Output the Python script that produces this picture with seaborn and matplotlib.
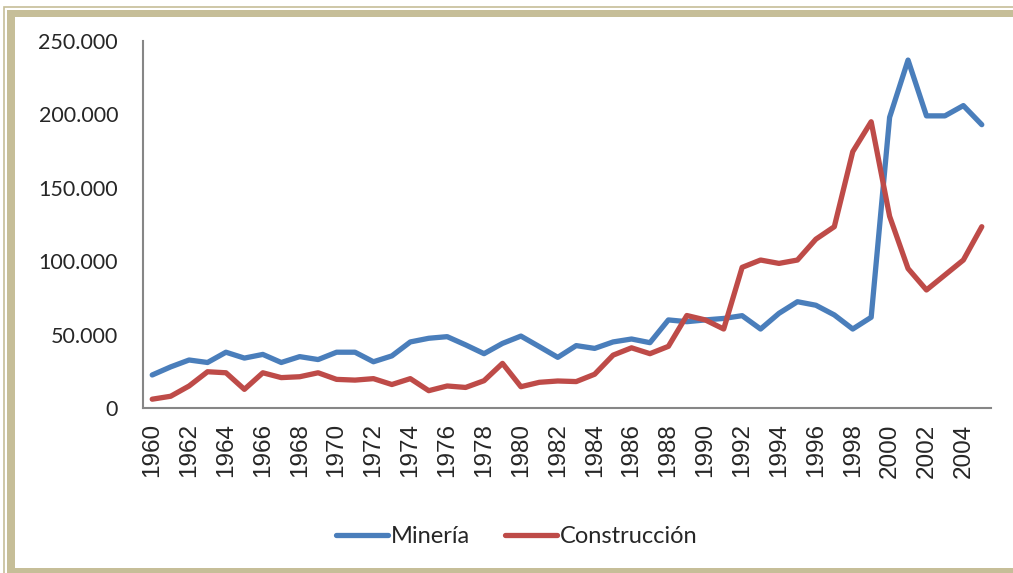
import numpy as np
import pandas as pd
import matplotlib
matplotlib.use("Agg")
import matplotlib.pyplot as plt
from matplotlib.patches import Rectangle
from matplotlib.ticker import FuncFormatter
import seaborn as sns

# ---------------------------------------------------------------------
# data (thousands)
# ---------------------------------------------------------------------
years = list(range(1960, 2006))

mineria = [22.5, 28, 32.7, 31, 38, 34, 36.5, 31, 35, 33,
           38, 38, 31.5, 35.5, 45, 47.5, 48.6, 43, 37, 44,
           49, 41.8, 34.5, 42.5, 40.6, 45, 47, 44.5, 60, 58.8,
           60, 61, 62.9, 53.8, 64.5, 72.4, 70, 63.4, 53.8, 61.8,
           198, 237, 199, 199, 206, 193]

construccion = [6, 8, 15, 24.7, 24, 12.7, 24, 20.7, 21.3, 24,
                19.5, 19, 20, 16, 20, 11.8, 15, 14, 18.6, 30.4,
                14.5, 17.5, 18.4, 18, 23, 36, 41, 37, 42, 63,
                60, 53.8, 95.8, 100.8, 98.5, 100.8, 115, 123.5, 174.6, 195,
                130.6, 95, 80.4, 90.6, 100.8, 123.5]

series_names = ["Minería", "Construcción"]
colors = ["#4A7EBB", "#BE4B48"]

yticks = [0, 50000, 100000, 150000, 200000, 250000]
xticks = list(range(1960, 2005, 2))

df = pd.DataFrame({
    "year": years * 2,
    "value": [v * 1000 for v in mineria] + [v * 1000 for v in construccion],
    "serie": [series_names[0]] * len(years) + [series_names[1]] * len(years),
})

# ---------------------------------------------------------------------
# figure
# ---------------------------------------------------------------------
sns.set_style("white")
plt.rcParams["font.family"] = ["Lato", "DejaVu Sans"]

W, H = 1013, 573
fig = plt.figure(figsize=(W / 100, H / 100), dpi=100)

# beige frame around the chart area (drawn below the axes)
frame = "#C6BE98"
fig.patches.append(Rectangle((7 / W, 0), 1.2, 1 - 10 / H, transform=fig.transFigure,
                             facecolor=frame, edgecolor="none", zorder=-3))
fig.patches.append(Rectangle((15 / W, 5 / H), 1.2, 1 - 22 / H, transform=fig.transFigure,
                             facecolor="white", edgecolor="none", zorder=-2))
fig.patches.append(Rectangle((3.5 / W, -0.1), 1.2, 1.1 - 7 / H, transform=fig.transFigure,
                             facecolor="none", edgecolor=frame, linewidth=1.2, zorder=-3))

ax = fig.add_axes([143 / W, 1 - 408 / H, (991 - 143) / W, (408 - 41) / H])
ax.set_facecolor("none")

sns.lineplot(data=df, x="year", y="value", hue="serie", hue_order=series_names,
             palette=colors, linewidth=3.8, ax=ax, legend=True)

ax.set_xlim(1959.5, 2005.5)
ax.set_ylim(0, 250000)
ax.set_xticks(xticks)
ax.set_xticklabels([str(y) for y in xticks], rotation=90,
                   fontfamily="Liberation Sans", fontsize=17.5)
ax.set_yticks(yticks)
ax.yaxis.set_major_formatter(FuncFormatter(lambda v, p: f"{int(v):,}".replace(",", ".")))
ax.tick_params(axis="y", labelsize=15.5, length=0, pad=18)
ax.tick_params(axis="x", length=0, pad=11)
ax.set_xlabel("")
ax.set_ylabel("")

for s in ["top", "right"]:
    ax.spines[s].set_visible(False)
for s in ["left", "bottom"]:
    ax.spines[s].set_color("#868686")
    ax.spines[s].set_linewidth(1.5)

ax.legend(loc="center", bbox_to_anchor=(0.51, 0.064), bbox_transform=fig.transFigure,
          ncol=2, frameon=False, fontsize=17, handlelength=2.2, handletextpad=0.1,
          columnspacing=1.5)

fig.savefig("out.png", dpi=100)
